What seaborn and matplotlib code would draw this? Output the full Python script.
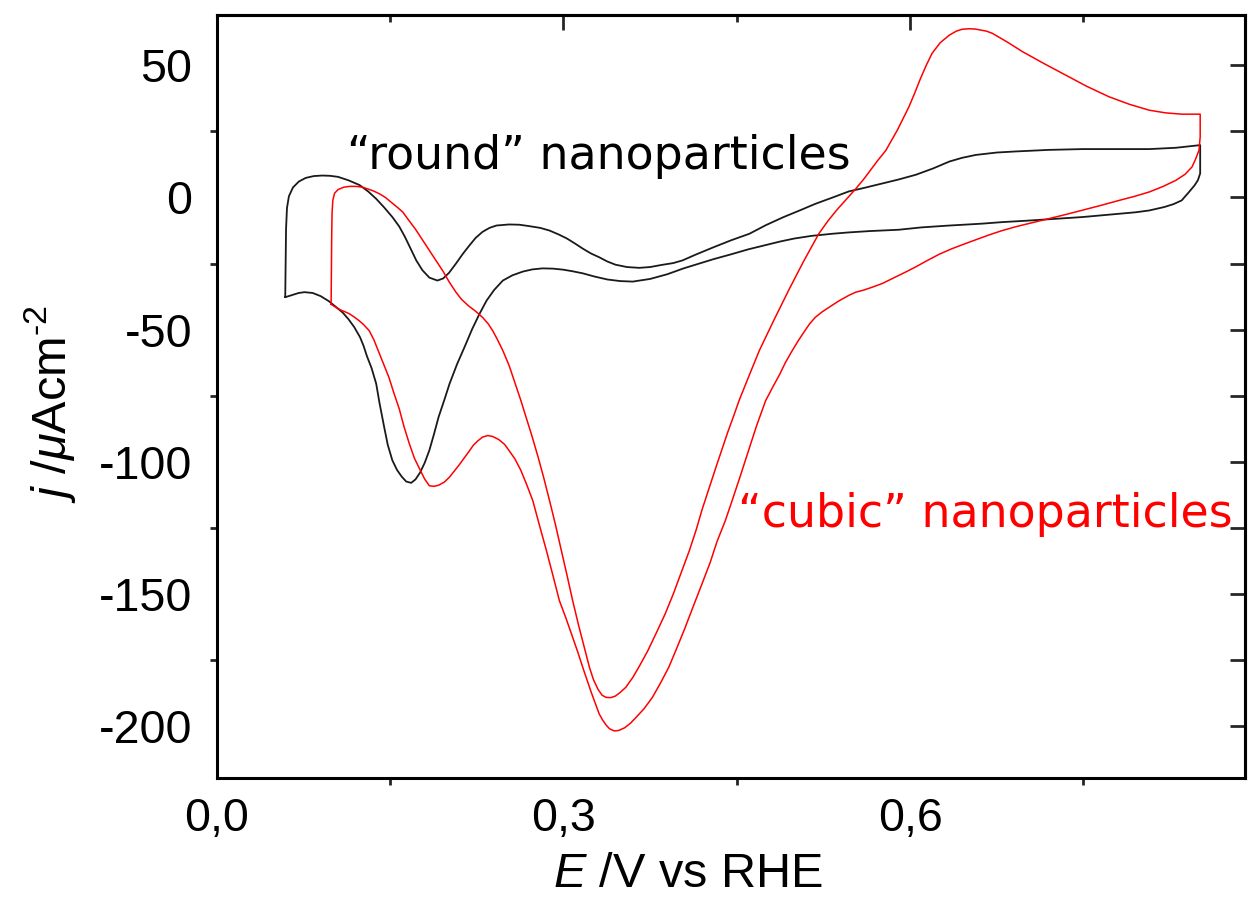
import numpy as np
import pandas as pd
import matplotlib
matplotlib.use("Agg")
import matplotlib.pyplot as plt
import seaborn as sns
from matplotlib.ticker import MultipleLocator, FixedLocator, FuncFormatter

# Cyclic voltammograms: potential E (V vs RHE) and current density j (uA cm^-2)
round_E = [0.0593, 0.0596, 0.0600, 0.0608, 0.0625, 0.066, 0.071, 0.077, 0.084, 0.0913,
           0.098, 0.105, 0.114, 0.1236, 0.131, 0.138, 0.145, 0.152, 0.158, 0.163,
           0.168, 0.1727, 0.178, 0.184, 0.191, 0.196, 0.201, 0.207, 0.213, 0.218,
           0.224, 0.230, 0.236, 0.242, 0.253, 0.262, 0.270, 0.280, 0.288, 0.296,
           0.303, 0.310, 0.317, 0.324, 0.331, 0.338, 0.345, 0.355, 0.3657, 0.375,
           0.385, 0.395, 0.403, 0.415, 0.430, 0.445, 0.461, 0.475, 0.490, 0.505,
           0.518, 0.533, 0.547, 0.560, 0.575, 0.590, 0.605, 0.620, 0.634, 0.645,
           0.657, 0.675, 0.691, 0.720, 0.749, 0.780, 0.807, 0.830, 0.851,
           0.851, 0.849, 0.846, 0.841, 0.835, 0.828, 0.820, 0.807, 0.795, 0.780,
           0.765, 0.749, 0.725, 0.700, 0.680, 0.662, 0.634, 0.610, 0.590, 0.565,
           0.547, 0.533, 0.515, 0.500, 0.488, 0.475, 0.460, 0.445, 0.430, 0.418,
           0.404, 0.390, 0.375, 0.360, 0.349, 0.338, 0.327, 0.317, 0.308, 0.300,
           0.291, 0.282, 0.273, 0.265, 0.256, 0.2476, 0.240, 0.2335, 0.2274, 0.221,
           0.215, 0.208, 0.2015, 0.197, 0.192, 0.188, 0.184, 0.180, 0.176, 0.172,
           0.1683, 0.164, 0.160, 0.156, 0.152, 0.148, 0.145, 0.141, 0.138, 0.134,
           0.130, 0.127, 0.124, 0.119, 0.114, 0.109, 0.1035, 0.097, 0.090, 0.083,
           0.076, 0.071, 0.066, 0.0593]
round_j = [-37.7, -25.0, -12.0, -4.0, 0.5, 3.8, 6.0, 7.4, 8.1, 8.3,
           8.2, 7.8, 6.5, 4.7, 2.3, -0.5, -3.8, -7.4, -11.0, -15.0,
           -19.5, -23.8, -27.5, -30.3, -31.4, -30.6, -28.5, -25.0, -21.3, -18.5,
           -15.3, -13.0, -11.5, -10.6, -10.2, -10.3, -10.8, -11.5, -12.5, -14.0,
           -15.5, -17.4, -19.4, -21.2, -22.6, -24.2, -25.4, -26.3, -26.6, -26.3,
           -25.5, -24.8, -23.8, -21.5, -18.8, -16.2, -13.7, -10.5, -7.5, -4.8,
           -2.4, 0.0, 2.3, 3.6, 5.2, 6.8, 8.6, 11.0, 13.6, 15.0,
           16.1, 17.0, 17.4, 18.0, 18.3, 18.3, 18.3, 18.8, 19.8,
           9.1, 6.5, 4.5, 1.9, -1.1, -2.5, -3.6, -4.9, -5.6, -6.2,
           -6.8, -7.4, -8.1, -8.8, -9.3, -9.9, -10.6, -11.3, -12.2, -12.7,
           -13.2, -13.7, -14.5, -15.5, -16.6, -18.0, -19.6, -21.5, -23.3, -24.9,
           -26.8, -29.0, -30.8, -31.8, -31.6, -31.0, -29.9, -28.7, -27.9, -27.3,
           -26.9, -26.8, -27.2, -28.0, -29.4, -31.4, -35.0, -39.0, -44.0, -49.8,
           -56.0, -63.0, -70.4, -76.5, -83.0, -89.5, -95.6, -100.3, -104.0, -106.6,
           -107.9, -107.4, -105.5, -103.0, -99.4, -93.5, -87.0, -78.0, -70.4, -64.5,
           -60.0, -56.0, -52.8, -49.0, -46.0, -43.5, -41.5, -39.2, -37.3, -36.1,
           -35.8, -36.1, -36.8, -37.7]

cubic_E = [0.099, 0.0993, 0.0995, 0.0998, 0.1005, 0.102, 0.105, 0.110, 0.115, 0.1205,
           0.126, 0.131, 0.136, 0.1408, 0.146, 0.151, 0.156, 0.161, 0.166, 0.172,
           0.178, 0.184, 0.190, 0.196, 0.201, 0.207, 0.212, 0.218, 0.224, 0.230,
           0.235, 0.239, 0.243, 0.2476, 0.253, 0.258, 0.263, 0.2677, 0.273, 0.278,
           0.283, 0.288, 0.293, 0.298, 0.303, 0.308, 0.313, 0.318, 0.3225, 0.326,
           0.330, 0.3335, 0.3369, 0.341, 0.345, 0.349, 0.354, 0.360, 0.366, 0.373,
           0.380, 0.388, 0.395, 0.402, 0.409, 0.415, 0.420, 0.426, 0.432, 0.437,
           0.442, 0.447, 0.452, 0.461, 0.4695, 0.482, 0.495, 0.508, 0.521, 0.529,
           0.537, 0.545, 0.553, 0.560, 0.566, 0.572, 0.579, 0.589, 0.599, 0.604,
           0.609, 0.614, 0.619, 0.626, 0.634, 0.640, 0.645, 0.651, 0.656, 0.660,
           0.666, 0.671, 0.684, 0.697, 0.716, 0.7345, 0.753, 0.772, 0.790, 0.807,
           0.821, 0.835, 0.851,
           0.851, 0.850, 0.847, 0.844, 0.838, 0.830, 0.819, 0.807, 0.794, 0.780,
           0.765, 0.749, 0.735, 0.720, 0.705, 0.691, 0.679, 0.668, 0.658, 0.648,
           0.636, 0.625, 0.615, 0.605, 0.597, 0.590, 0.583, 0.576, 0.568, 0.560,
           0.553, 0.547, 0.538, 0.530, 0.524, 0.518, 0.513, 0.508, 0.503, 0.498,
           0.492, 0.487, 0.481, 0.475, 0.467, 0.460, 0.453, 0.446, 0.440, 0.433,
           0.427, 0.420, 0.412, 0.405, 0.398, 0.3912, 0.384, 0.377, 0.370, 0.3628,
           0.358, 0.353, 0.348, 0.344, 0.340, 0.337, 0.334, 0.331, 0.324, 0.3167,
           0.312, 0.307, 0.302, 0.2965, 0.291, 0.285, 0.279, 0.2735, 0.268, 0.263,
           0.258, 0.253, 0.249, 0.244, 0.239, 0.2346, 0.230, 0.226, 0.222, 0.219,
           0.210, 0.2015, 0.197, 0.192, 0.188, 0.184, 0.180, 0.176, 0.171, 0.1666,
           0.162, 0.158, 0.153, 0.149, 0.144, 0.140, 0.136, 0.132, 0.127, 0.123,
           0.119, 0.1149, 0.111, 0.107, 0.103, 0.099]
cubic_j = [-40.4, -25.0, -15.0, -6.0, -1.0, 1.6, 3.0, 3.9, 4.2, 4.2,
           3.9, 3.2, 2.4, 1.4, 0.0, -1.8, -3.6, -5.5, -8.5, -12.0,
           -16.0, -20.0, -24.0, -28.0, -31.8, -35.8, -38.6, -41.0, -43.0, -45.3,
           -47.8, -50.5, -53.8, -57.9, -63.5, -70.0, -76.5, -83.1, -90.5, -98.0,
           -106.0, -114.6, -123.5, -133.0, -142.6, -152.4, -161.5, -170.0, -177.6, -182.3,
           -186.0, -188.2, -189.0, -189.1, -188.5, -187.2, -185.2, -181.5, -177.0, -171.4,
           -165.0, -157.5, -150.0, -141.8, -133.5, -125.5, -118.0, -110.0, -102.0, -95.5,
           -89.0, -83.0, -76.8, -67.0, -57.9, -46.5, -35.0, -24.0, -13.7, -8.8,
           -4.5, -0.6, 3.3, 7.0, 10.5, 14.0, 17.8, 25.5, 34.3, 39.5,
           45.0, 50.0, 54.5, 58.5, 61.4, 62.9, 63.6, 63.8, 63.7, 63.4,
           62.9, 62.1, 58.8, 55.2, 50.6, 46.3, 42.0, 38.1, 35.2, 33.0,
           32.0, 31.5, 31.5,
           22.9, 17.9, 14.5, 11.6, 8.8, 6.5, 4.2, 2.1, 0.4, -1.2,
           -3.0, -4.8, -6.4, -8.0, -9.6, -11.1, -12.6, -14.2, -15.8, -17.4,
           -19.4, -21.5, -23.8, -26.2, -28.0, -29.5, -31.0, -32.5, -33.8, -35.0,
           -35.8, -37.0, -39.2, -41.5, -43.2, -45.3, -47.8, -51.0, -54.3, -57.9,
           -62.5, -67.0, -71.8, -76.8, -86.5, -96.0, -105.4, -114.6, -122.3, -130.0,
           -138.0, -146.0, -155.0, -163.0, -170.5, -177.6, -183.6, -189.0, -193.2, -196.6,
           -198.8, -200.5, -201.5, -201.7, -200.9, -199.5, -197.6, -195.3, -187.0, -177.6,
           -171.3, -165.0, -158.8, -152.4, -143.0, -133.0, -123.5, -114.6, -108.3, -103.0,
           -98.8, -95.7, -93.3, -91.5, -90.4, -90.0, -90.6, -92.0, -93.7, -95.6,
           -101.0, -105.7, -107.6, -108.8, -109.2, -109.0, -106.5, -103.0, -98.5, -93.0,
           -86.5, -80.0, -73.5, -68.0, -62.5, -58.0, -53.8, -50.4, -48.0, -46.5,
           -45.2, -44.0, -43.2, -42.5, -41.5, -40.4]

x_major = [0.0, 0.3, 0.6]
x_minor = [0.15, 0.45, 0.75]
y_major = [-200, -150, -100, -50, 0, 50]

sns.set_theme(style="white")
plt.rcParams["font.family"] = ["Liberation Sans", "DejaVu Sans"]
plt.rcParams["mathtext.fontset"] = "custom"
plt.rcParams["mathtext.rm"] = "Liberation Sans"
plt.rcParams["mathtext.it"] = "Liberation Sans:italic"

fig = plt.figure(figsize=(12.49, 8.98), dpi=100)
ax = fig.add_axes([0.1735, 0.1336, 0.8235, 0.8497])

round_df = pd.DataFrame({"E": round_E, "j": round_j})
cubic_df = pd.DataFrame({"E": cubic_E, "j": cubic_j})
sns.lineplot(data=round_df, x="E", y="j", sort=False, estimator=None,
             color="#1a1a1a", lw=1.3, ax=ax)
sns.lineplot(data=cubic_df, x="E", y="j", sort=False, estimator=None,
             color="#ff0000", lw=1.1, ax=ax)

ax.set_xlim(0.0, 0.89)
ax.set_ylim(-219.5, 69.0)

ax.xaxis.set_major_locator(FixedLocator(x_major))
ax.xaxis.set_minor_locator(FixedLocator(x_minor))
ax.yaxis.set_major_locator(FixedLocator(y_major))
ax.yaxis.set_minor_locator(MultipleLocator(25))
ax.xaxis.set_major_formatter(FuncFormatter(lambda v, p: f"{v:.1f}".replace(".", ",")))
ax.yaxis.set_major_formatter(FuncFormatter(lambda v, p: f"{v:.0f}"))

for s in ax.spines.values():
    s.set_linewidth(2.2)
    s.set_color("black")

ax.tick_params(which="major", direction="out", width=2.0, labelsize=33.5,
               colors="black", top=False, right=False)
ax.tick_params(axis="y", which="major", length=9.5, pad=8)
ax.tick_params(axis="x", which="major", length=10.5, pad=3)
ax.tick_params(which="minor", direction="out", length=5, width=2.0,
               top=False, right=False, bottom=True, left=True)

# inward ticks on the top and right frame
top = ax.secondary_xaxis("top")
top.xaxis.set_major_locator(FixedLocator(x_major))
top.xaxis.set_minor_locator(FixedLocator(x_minor))
top.tick_params(which="major", direction="in", length=11, width=2.0, labeltop=False)
top.tick_params(which="minor", direction="in", length=5, width=2.0)
top.spines["top"].set_linewidth(2.2)
right = ax.secondary_yaxis("right")
right.yaxis.set_major_locator(MultipleLocator(25))
right.tick_params(direction="in", length=11, width=2.0, labelright=False)
right.spines["right"].set_linewidth(2.2)

ax.set_xlabel(r"$\it{E}$ /V vs RHE", fontsize=35, color="black")
ax.set_ylabel(r"$\it{j}$ /$\mu$Acm$^{\text{-2}}$", fontsize=35, color="black")
ax.xaxis.label.set_va("baseline")
ax.yaxis.label.set_va("baseline")
ax.xaxis.set_label_coords(0.458, -0.143)
ax.yaxis.set_label_coords(-0.147, 0.49)

ax.text(0.3305, 15.4, "\u201cround\u201d nanoparticles", family="DejaVu Sans",
        fontsize=33, color="black", ha="center", va="center")
ax.text(0.665, -120.0, "\u201ccubic\u201d nanoparticles", family="DejaVu Sans",
        fontsize=33, color="#ff0000", ha="center", va="center")

fig.savefig("out.png", dpi=100, facecolor="white")
